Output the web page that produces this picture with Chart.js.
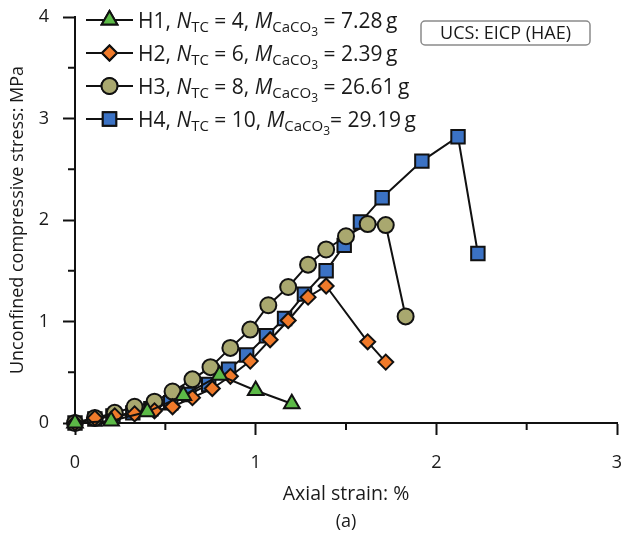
<!DOCTYPE html>
<html><head><meta charset="utf-8">
<script src="https://cdn.jsdelivr.net/npm/chart.js@4/dist/chart.umd.min.js"></script>
<style>html,body{margin:0;padding:0;background:#fff;}#wrap{width:621px;height:535px;position:relative;}</style>
</head><body><div id="wrap"><canvas id="c" width="621" height="535"></canvas></div>
<script>
// ---- data ----
const h1Strain = [0, 0.2, 0.4, 0.6, 0.8, 1.0, 1.2];
const h1Stress = [0, 0.02, 0.11, 0.27, 0.47, 0.32, 0.19];
const h2Strain = [0, 0.11, 0.22, 0.33, 0.44, 0.54, 0.65, 0.76, 0.86, 0.97, 1.08, 1.18, 1.29, 1.39, 1.62, 1.72];
const h2Stress = [0, 0.05, 0.07, 0.09, 0.12, 0.16, 0.25, 0.34, 0.46, 0.61, 0.82, 1.01, 1.24, 1.35, 0.80, 0.60];
const h3Strain = [0, 0.11, 0.22, 0.33, 0.44, 0.54, 0.65, 0.75, 0.86, 0.97, 1.07, 1.18, 1.29, 1.39, 1.50, 1.62, 1.72, 1.83];
const h3Stress = [0, 0.05, 0.10, 0.16, 0.21, 0.31, 0.43, 0.55, 0.74, 0.92, 1.16, 1.34, 1.56, 1.71, 1.84, 1.96, 1.95, 1.05];
const h4Strain = [0, 0.11, 0.21, 0.32, 0.42, 0.53, 0.63, 0.74, 0.85, 0.95, 1.06, 1.16, 1.27, 1.39, 1.49, 1.58, 1.70, 1.92, 2.12, 2.23];
const h4Stress = [0, 0.04, 0.07, 0.10, 0.14, 0.20, 0.28, 0.38, 0.53, 0.67, 0.86, 1.03, 1.27, 1.50, 1.75, 1.98, 2.22, 2.58, 2.82, 1.67];
const seriesNames = ['H1', 'H2', 'H3', 'H4'];
const seriesNtc = ['4', '6', '8', '10'];
const seriesMass = ['7.28', '2.39', '26.61', '29.19'];
const xTickLabels = ['0', '1', '2', '3'];
const yTickLabels = ['0', '1', '2', '3', '4'];
const boxLabel = 'UCS: EICP (HAE)';
const xTitle = 'Axial strain: %';
const yTitle = 'Unconfined compressive stress: MPa';
const panelLabel = '(a)';

const FONT = "'Open Sans', 'Noto Sans', sans-serif";
const pts = (xs, ys) => xs.map((x, i) => ({x: x, y: ys[i]}));
const styles = [
  {pointStyle: 'triangle', bg: '#5cba47', r: 9},
  {pointStyle: 'rectRot', bg: '#f07a2a', r: 7.5},
  {pointStyle: 'circle', bg: '#a9a86f', r: 8},
  {pointStyle: 'rect', bg: '#3b72c4', r: 9.5}
];
const allData = [pts(h1Strain, h1Stress), pts(h2Strain, h2Stress), pts(h3Strain, h3Stress), pts(h4Strain, h4Stress)];
// lower order is drawn on top: H1 on top, H4 at the bottom
const datasets = allData.map((d, i) => ({
  label: seriesNames[i], data: d, showLine: true,
  borderColor: '#111', borderWidth: 2,
  pointStyle: styles[i].pointStyle, pointRadius: styles[i].r, pointHoverRadius: styles[i].r,
  pointBackgroundColor: styles[i].bg, pointBorderColor: '#111', pointBorderWidth: 2,
  clip: false,
  order: i + 1
}));

function drawRuns(ctx, x, y, runs) {
  ctx.textBaseline = 'alphabetic';
  ctx.textAlign = 'left';
  for (const r of runs) {
    ctx.font = (r.it ? 'italic ' : '') + r.s + 'px ' + FONT;
    ctx.fillStyle = '#1a1a1a';
    ctx.fillText(r.t, x, y + (r.dy || 0));
    x += ctx.measureText(r.t).width;
  }
}

const extras = {
  id: 'extras',
  afterDraw(chart) {
    const ctx = chart.ctx;
    const xs = chart.scales.x, ys = chart.scales.y;
    ctx.save();
    // minor ticks
    ctx.strokeStyle = '#111'; ctx.lineWidth = 2;
    [0.5, 1.5, 2.5].forEach(v => {
      const px = xs.getPixelForValue(v);
      ctx.beginPath(); ctx.moveTo(px, ys.bottom); ctx.lineTo(px, ys.bottom + 7); ctx.stroke();
    });
    [0.5, 1.5, 2.5, 3.5].forEach(v => {
      const py = ys.getPixelForValue(v);
      ctx.beginPath(); ctx.moveTo(xs.left, py); ctx.lineTo(xs.left - 7, py); ctx.stroke();
    });
    // panel label
    ctx.font = '18px ' + FONT; ctx.fillStyle = '#1a1a1a';
    ctx.textAlign = 'center'; ctx.textBaseline = 'middle';
    ctx.fillText(panelLabel, (xs.left + xs.right) / 2, 522);
    // legend
    const lx0 = 86, lx1 = 133, tx = 138;
    const rowY = [20, 53, 86, 119];
    for (let i = 0; i < 4; i++) {
      const y = rowY[i];
      ctx.strokeStyle = '#111'; ctx.lineWidth = 2;
      ctx.beginPath(); ctx.moveTo(lx0, y); ctx.lineTo(lx1, y); ctx.stroke();
      Chart.helpers.drawPoint(ctx, {pointStyle: styles[i].pointStyle, radius: styles[i].r, borderWidth: 2}, (lx0 + lx1) / 2, y);
      ctx.fillStyle = styles[i].bg; ctx.fill();
      ctx.strokeStyle = '#111'; ctx.lineWidth = 2; ctx.stroke();
      const by = y + 8;
      drawRuns(ctx, tx, by, [
        {t: seriesNames[i] + ', ', s: 21},
        {t: 'N', s: 21, it: true},
        {t: 'TC', s: 15, dy: 4},
        {t: ' = ' + seriesNtc[i] + ', ', s: 21},
        {t: 'M', s: 21, it: true},
        {t: 'CaCO', s: 15, dy: 4},
        {t: '3', s: 12, dy: 8},
        {t: (i === 3 ? '= ' : ' = ') + seriesMass[i] + '\u2009g', s: 21}
      ]);
    }
    // label box
    const bx = 421, by0 = 21, bw = 169, bh = 24;
    ctx.beginPath();
    ctx.roundRect(bx, by0, bw, bh, 4);
    ctx.fillStyle = '#fff'; ctx.fill();
    ctx.strokeStyle = '#8a8a8a'; ctx.lineWidth = 1.5; ctx.stroke();
    ctx.font = '18px ' + FONT; ctx.fillStyle = '#1a1a1a';
    ctx.textAlign = 'center'; ctx.textBaseline = 'middle';
    ctx.fillText(boxLabel, bx + bw / 2, by0 + bh / 2 + 1);
    ctx.restore();
  }
};

new Chart(document.getElementById('c'), {
  type: 'scatter',
  data: {datasets: datasets},
  plugins: [extras],
  options: {
    responsive: false, animation: false, events: [],
    layout: {autoPadding: false, padding: {left: 0, right: 4, top: 17, bottom: 0}},
    plugins: {legend: {display: false}, tooltip: {enabled: false}, title: {display: false}},
    scales: {
      x: {
        type: 'linear', min: 0, max: 3,
        afterFit: s => { s.height = 112; s.paddingLeft = 0; s.paddingRight = 0; },
        ticks: {stepSize: 1, color: '#1a1a1a', padding: 17, font: {family: FONT, size: 18},
          callback: (v) => xTickLabels[Math.round(v)] },
        grid: {display: true, drawOnChartArea: false, drawTicks: true, tickLength: 12, tickColor: '#111', tickWidth: 2},
        border: {display: true, color: '#111', width: 2},
        title: {display: true, text: xTitle, color: '#1a1a1a', font: {family: FONT, size: 19.5}, padding: {top: 0, bottom: 29}}
      },
      y: {
        type: 'linear', min: 0, max: 4,
        afterFit: s => { s.width = 75; s.paddingTop = 0; s.paddingBottom = 0; },
        ticks: {stepSize: 1, color: '#1a1a1a', padding: 14, font: {family: FONT, size: 18},
          callback: (v) => yTickLabels[Math.round(v)] },
        grid: {display: true, drawOnChartArea: false, drawTicks: true, tickLength: 12, tickColor: '#111', tickWidth: 2},
        border: {display: true, color: '#111', width: 2},
        title: {display: true, text: yTitle, color: '#1a1a1a', font: {family: FONT, size: 18}, padding: {top: 7, bottom: 0}}
      }
    }
  }
});
</script></body></html>
